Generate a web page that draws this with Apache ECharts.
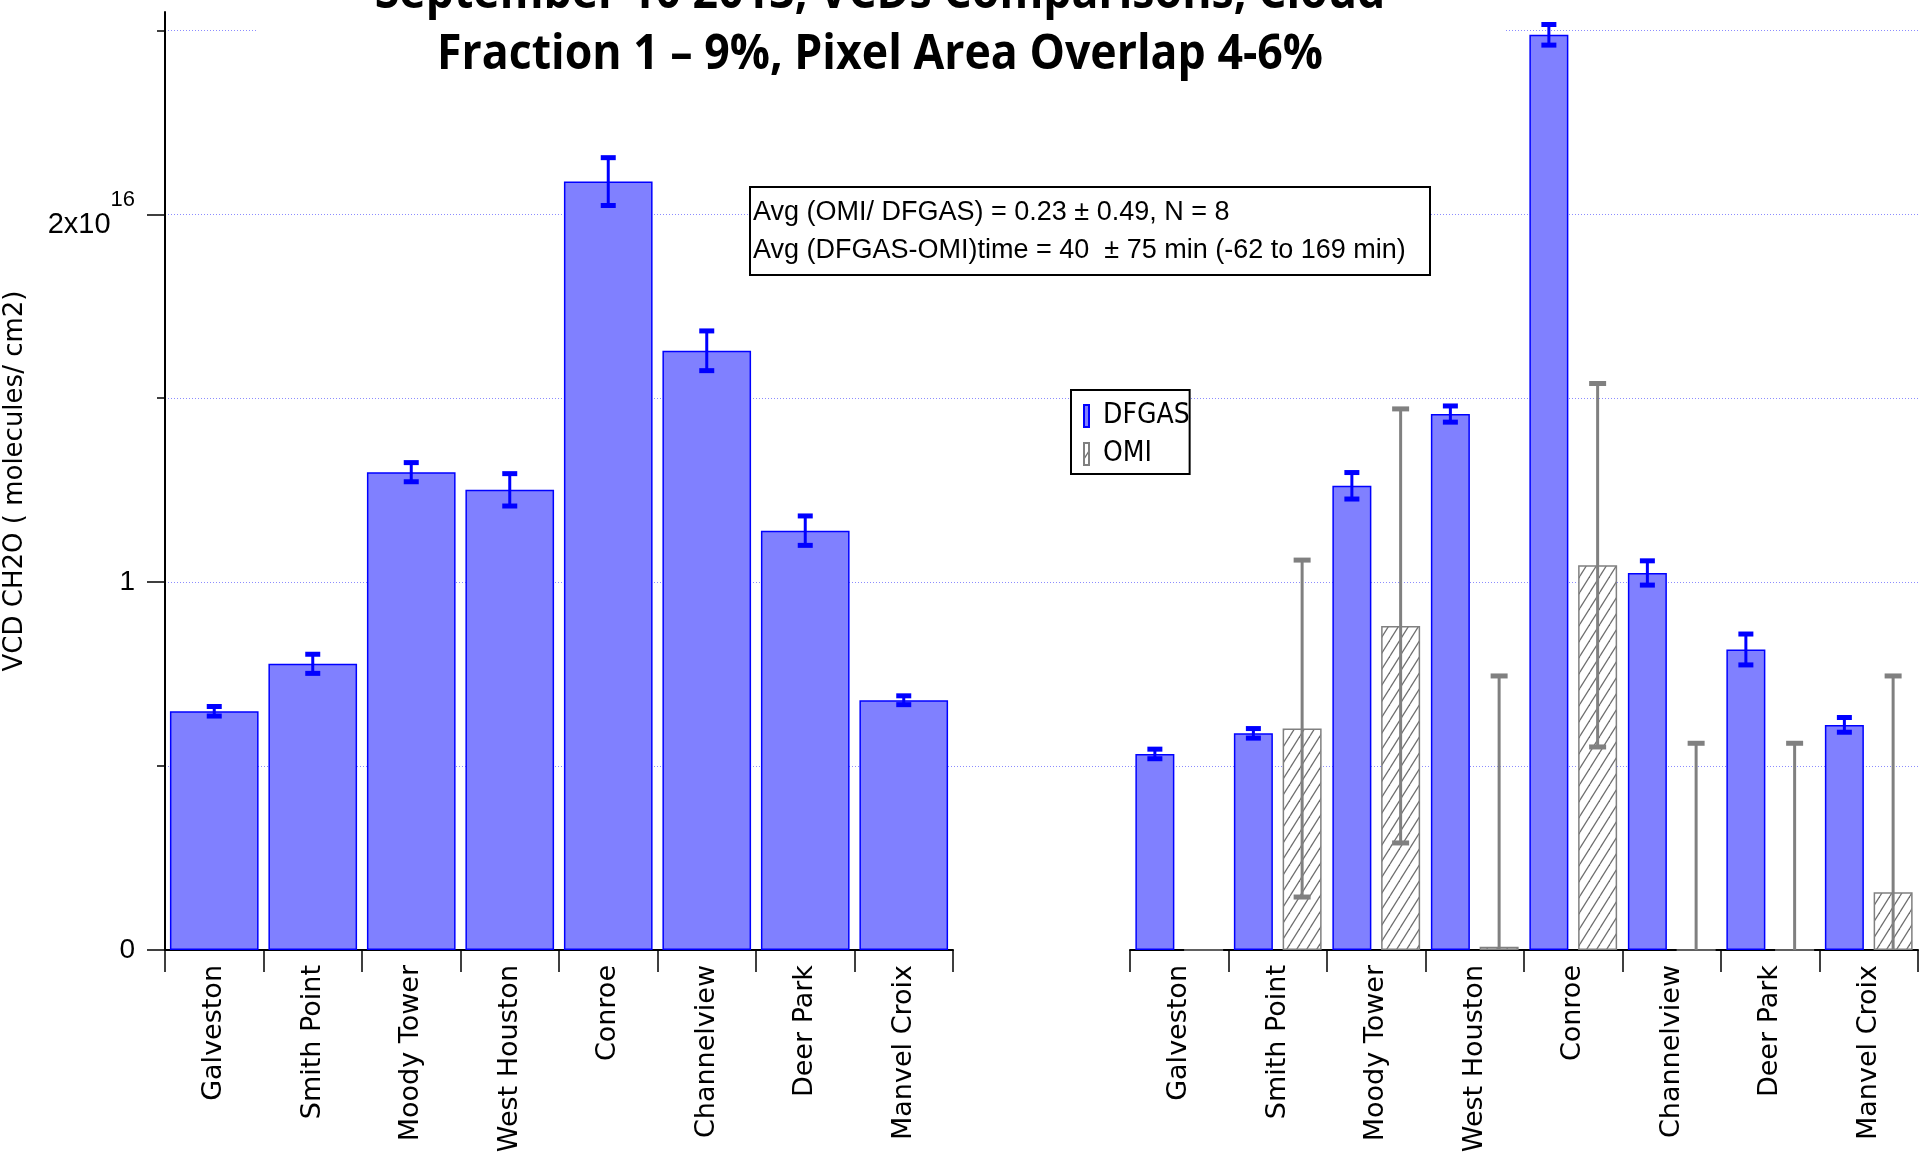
<!DOCTYPE html>
<html>
<head>
<meta charset="utf-8">
<title>CH2O VCD comparison</title>
<script src="https://cdn.jsdelivr.net/npm/echarts@6/dist/echarts.min.js"></script>
<style>
  html, body { margin: 0; padding: 0; background: #ffffff; }
  #chart { width: 1920px; height: 1165px; }
</style>
</head>
<body>
<div id="chart"></div>
<script>
// Sites (same order in both panels)
const sites = ['Galveston', 'Smith Point', 'Moody Tower', 'West Houston', 'Conroe', 'Channelview', 'Deer Park', 'Manvel Croix'];

// Left panel: DFGAS CH2O vertical columns, units of 1e16 molecules/cm2
const allDfgas    = [0.649, 0.778, 1.299, 1.251, 2.089, 1.629, 1.140, 0.679];
const allDfgasErr = [0.013, 0.026, 0.026, 0.044, 0.065, 0.054, 0.040, 0.012];

// Right panel: DFGAS vs OMI for coincident pixels
const coDfgas    = [0.533, 0.589, 1.262, 1.457, 2.488, 1.025, 0.817, 0.612];
const coDfgasErr = [0.013, 0.013, 0.036, 0.022, 0.028, 0.033, 0.042, 0.020];
const coOmi      = [0, 0.602, 0.881, 0.009, 1.046, 0, 0, 0.157];
const coOmiErr   = [null, 0.458, 0.590, 0.736, 0.494, 0.562, 0.562, 0.588];

// Y axis ticks (labelled majors, unlabelled minors)
const yMajorTicks = [0, 1, 2];
const yMinorTicks = [0.5, 1.5, 2.5];

const Y_MAX = 2.55;
const BLUE_FILL = '#8080ff';
const BLUE_EDGE = '#0000ff';
const GREY = '#808080';

// diagonal hatch used for the OMI columns
function hatchPattern() {
  const w = 10, h = 16;
  const c = document.createElement('canvas');
  c.width = w; c.height = h;
  const g = c.getContext('2d');
  g.fillStyle = '#ffffff';
  g.fillRect(0, 0, w, h);
  g.strokeStyle = '#6e6e6e';
  g.lineWidth = 1.3;
  for (const dx of [-w, 0, w]) {
    g.beginPath();
    g.moveTo(dx, h);
    g.lineTo(dx + w, 0);
    g.stroke();
  }
  return c;
}

// [categoryIndex, low, high] rows for the error bars
function errRows(vals, errs) {
  const rows = [];
  vals.forEach((v, i) => {
    if (errs[i] != null) rows.push([i, v - errs[i], v + errs[i]]);
  });
  return rows;
}

function errRenderer(offset, color, capW) {
  return function (params, api) {
    const i = api.value(0);
    const hi = api.coord([i, api.value(2)]);
    const lo = api.coord([i, api.value(1)]);
    const cx = hi[0] + offset;
    return {
      type: 'group',
      children: [
        { type: 'line', shape: { x1: cx, y1: hi[1], x2: cx, y2: lo[1] },
          style: { stroke: color, lineWidth: 3 } },
        { type: 'rect', shape: { x: cx - capW / 2, y: hi[1] - 2.5, width: capW, height: 5 },
          style: { fill: color } },
        { type: 'rect', shape: { x: cx - capW / 2, y: lo[1] - 2.5, width: capW, height: 5 },
          style: { fill: color } }
      ]
    };
  };
}

const chart = echarts.init(document.getElementById('chart'), null, { renderer: 'canvas' });

const BAR_W = 39;
const PAIR_OFFSET = (BAR_W * 2 + BAR_W * 0.25) / 2 - BAR_W / 2;
const PX_PER_UNIT = 938 / Y_MAX;

const catAxis = (gridIndex) => ({
  type: 'category',
  gridIndex,
  data: sites,
  boundaryGap: true,
  axisLine: { show: true, lineStyle: { color: '#000', width: 2 } },
  axisTick: { show: true, length: 22, lineStyle: { color: '#000', width: 1.5 } },
  axisLabel: {
    interval: 0, rotate: 90, margin: 15,
    fontFamily: 'DejaVu Sans', fontSize: 27, color: '#000'
  },
  splitLine: { show: false }
});

const option = {
  backgroundColor: '#ffffff',
  animation: false,
  grid: [
    { left: 165, top: 12, width: 788, height: 938, containLabel: false, outerBoundsMode: 'none' },
    { left: 1130, top: 12, width: 788, height: 938, containLabel: false, outerBoundsMode: 'none' },
    { left: 165, right: 0, top: 950 - 2.5 * PX_PER_UNIT, height: 2.0 * PX_PER_UNIT,
      containLabel: false, outerBoundsMode: 'none' }
  ],
  xAxis: [
    catAxis(0),
    catAxis(1),
    { type: 'value', gridIndex: 2, show: false, min: 0, max: 1 }
  ],
  yAxis: [
    {
      type: 'value', gridIndex: 0, position: 'left', min: 0, max: Y_MAX,
      name: 'VCD CH2O ( molecules/ cm2)',
      nameLocation: 'middle', nameRotate: 90, nameGap: 137,
      nameTextStyle: { fontFamily: 'DejaVu Sans', fontSize: 26, color: '#000' },
      axisLine: { show: true, lineStyle: { color: '#000', width: 2 } },
      axisTick: { show: true, customValues: yMajorTicks, length: 18, lineStyle: { color: '#000', width: 1.5 } },
      axisLabel: {
        customValues: yMajorTicks, margin: 30,
        fontFamily: 'Liberation Sans', fontSize: 28, color: '#000',
        formatter: (v) => v === 2 ? '{b|2x10}{s|16}' : '{n|' + v + '}',
        rich: {
          n: { fontFamily: 'Liberation Sans', fontSize: 28, lineHeight: 28, color: '#000' },
          b: { fontFamily: 'Liberation Sans', fontSize: 29, lineHeight: 50, color: '#000', verticalAlign: 'bottom' },
          s: { fontFamily: 'Liberation Sans', fontSize: 22, lineHeight: 22, color: '#000', verticalAlign: 'top' }
        }
      },
      splitLine: { show: false }
    },
    {
      type: 'value', gridIndex: 0, position: 'left', offset: 0, min: 0, max: Y_MAX,
      axisLine: { show: false },
      axisTick: { show: true, customValues: yMinorTicks, length: 8, lineStyle: { color: '#000', width: 1.5 } },
      axisLabel: { show: false },
      splitLine: { show: false }
    },
    {
      type: 'value', gridIndex: 1, min: 0, max: Y_MAX,
      axisLine: { show: false }, axisTick: { show: false },
      axisLabel: { show: false }, splitLine: { show: false }
    },
    {
      type: 'value', gridIndex: 2, min: 0.5, max: 2.5, interval: 0.5,
      axisLine: { show: false }, axisTick: { show: false }, axisLabel: { show: false },
      splitLine: { show: true, lineStyle: { color: '#8c8cff', width: 1, type: [1, 2] } }
    }
  ],
  legend: {
    data: ['DFGAS', 'OMI'],
    orient: 'vertical',
    left: 1071, top: 390,
    icon: 'rect',
    itemWidth: 5, itemHeight: 22, itemGap: 10,
    padding: [12, 0, 6, 12],
    backgroundColor: '#ffffff',
    borderColor: '#000', borderWidth: 2,
    selectedMode: false,
    textStyle: {
      fontFamily: '"Liberation Sans Narrow", "DejaVu Sans Condensed", "Liberation Sans"',
      fontSize: 28, color: '#000', padding: [0, 0, 0, 9]
    },
    z: 20
  },
  series: [
    {
      name: 'DFGAS', type: 'bar', xAxisIndex: 0, yAxisIndex: 0,
      data: allDfgas, barCategoryGap: '10%',
      itemStyle: { color: BLUE_FILL, borderColor: BLUE_EDGE, borderWidth: 1.5 }
    },
    {
      name: 'DFGAS', type: 'bar', xAxisIndex: 1, yAxisIndex: 2,
      data: coDfgas, barWidth: BAR_W, barGap: '25%',
      itemStyle: { color: BLUE_FILL, borderColor: BLUE_EDGE, borderWidth: 1.5 }
    },
    {
      name: 'OMI', type: 'bar', xAxisIndex: 1, yAxisIndex: 2,
      data: coOmi, barWidth: BAR_W, barGap: '25%',
      itemStyle: { color: { image: hatchPattern(), repeat: 'repeat' }, borderColor: GREY, borderWidth: 1.5 }
    },
    {
      name: 'DFGAS error', type: 'custom', xAxisIndex: 0, yAxisIndex: 0, clip: true, z: 5,
      data: errRows(allDfgas, allDfgasErr), renderItem: errRenderer(0, BLUE_EDGE, 15)
    },
    {
      name: 'DFGAS coincident error', type: 'custom', xAxisIndex: 1, yAxisIndex: 2, clip: true, z: 5,
      data: errRows(coDfgas, coDfgasErr), renderItem: errRenderer(-PAIR_OFFSET, BLUE_EDGE, 15)
    },
    {
      name: 'OMI error', type: 'custom', xAxisIndex: 1, yAxisIndex: 2, clip: true, z: 5,
      data: errRows(coOmi, coOmiErr), renderItem: errRenderer(PAIR_OFFSET, GREY, 17)
    }
  ],
  graphic: [
    // title panel
    { type: 'rect', z: 100, shape: { x: 257, y: 0, width: 1248, height: 90 }, style: { fill: '#ffffff' } },
    { type: 'text', z: 101, x: 880, y: -6, scaleX: 0.93,
      style: { x: 0, y: 0, text: 'September 10 2013, VCDs Comparisons, Cloud', font: 'bold 48px "Open Sans"',
               fill: '#000', textAlign: 'center', textVerticalAlign: 'middle' } },
    { type: 'text', z: 101, x: 880, y: 55, scaleX: 0.93,
      style: { x: 0, y: 0, text: 'Fraction 1 \u2013 9%, Pixel Area Overlap 4-6%', font: 'bold 48px "Open Sans"',
               fill: '#000', textAlign: 'center', textVerticalAlign: 'middle' } },
    // statistics box
    { type: 'rect', z: 100, shape: { x: 750, y: 187, width: 680, height: 88 },
      style: { fill: '#ffffff', stroke: '#000', lineWidth: 2 } },
    { type: 'text', z: 101, x: 753, y: 213,
      style: { x: 0, y: 0, text: 'Avg (OMI/ DFGAS) = 0.23 \u00b1 0.49, N = 8', font: '27px "Liberation Sans"',
               fill: '#000', textAlign: 'left', textVerticalAlign: 'middle' } },
    { type: 'text', z: 101, x: 753, y: 251,
      style: { x: 0, y: 0, text: 'Avg (DFGAS-OMI)time = 40  \u00b1 75 min (-62 to 169 min)', font: '27px "Liberation Sans"',
               fill: '#000', textAlign: 'left', textVerticalAlign: 'middle' } }
  ]
};

chart.setOption(option);
</script>
</body>
</html>
